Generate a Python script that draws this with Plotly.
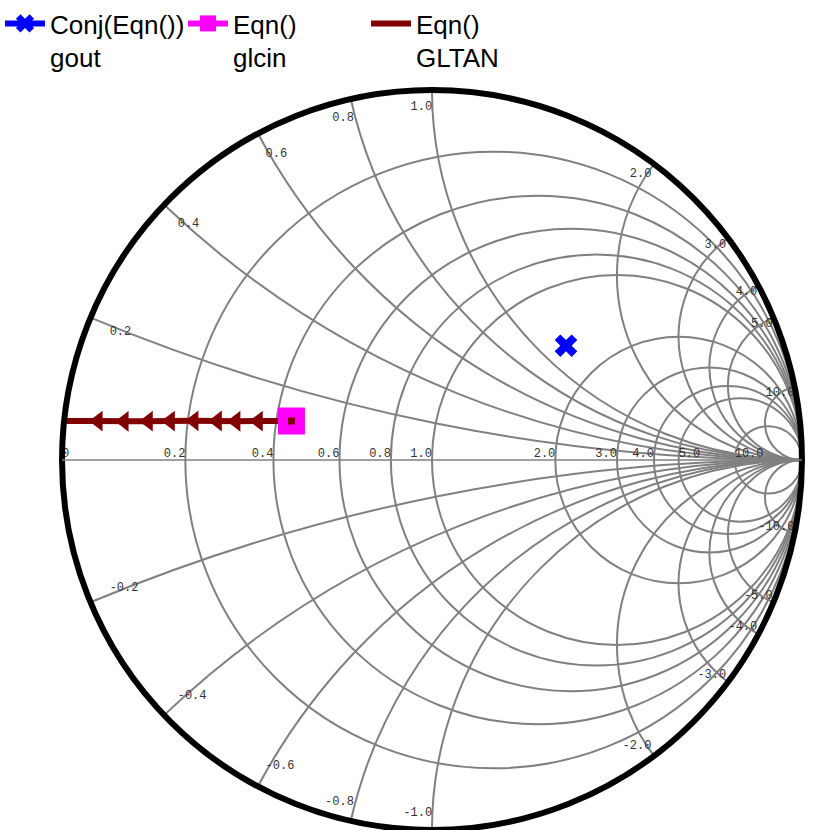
import plotly.graph_objects as go

# Data (normalized impedance: real = resistance, imag = reactance)
gout_r = [1.54]
gout_x = [1.23]

glcin_r = [0.441]
glcin_x = [0.110]

gltan_r = [0.441, 0.354, 0.301, 0.260, 0.212, 0.167, 0.128, 0.088, 0.048, 0.0]
gltan_x = [0.110, 0.097, 0.089, 0.084, 0.078, 0.072, 0.067, 0.062, 0.058, 0.053]

real_vals = [0.0, 0.2, 0.4, 0.6, 0.8, 1.0, 2.0, 3.0, 4.0, 5.0, 10.0]
real_labels = ["0", "0.2", "0.4", "0.6", "0.8", "1.0", "2.0", "3.0", "4.0", "5.0", "10.0"]
imag_vals = [0.2, 0.4, 0.6, 0.8, 1.0, 2.0, 3.0, 4.0, 5.0, 10.0,
             -0.2, -0.4, -0.6, -0.8, -1.0, -2.0, -3.0, -4.0, -5.0, -10.0]
imag_labels = ["0.2", "0.4", "0.6", "0.8", "1.0", "2.0", "3.0", "4.0", "5.0", "10.0",
               "-0.2", "-0.4", "-0.6", "-0.8", "-1.0", "-2.0", "-3.0", "-4.0", "-5.0", "-10.0"]
grid_real = real_vals[1:]
grid_imag = sorted(imag_vals)
label_inset = 0.03  # small resistance so edge labels sit just inside the rim

DARK_RED = "#800000"
LABEL_FONT = dict(family="Liberation Mono", size=12, color="#333333")

fig = go.Figure()

fig.add_trace(go.Scattersmith(
    real=gout_r, imag=gout_x, mode="lines+markers",
    name="Conj(Eqn())<br>gout",
    line=dict(color="#0000ff", width=6),
    marker=dict(symbol="x", size=20, color="#0000ff"),
    legendrank=1,
))

fig.add_trace(go.Scattersmith(
    real=gltan_r, imag=gltan_x, mode="lines",
    name="Eqn()<br>GLTAN",
    line=dict(color=DARK_RED, width=6),
    legendrank=3,
))

fig.add_trace(go.Scattersmith(
    real=gltan_r[1:-1], imag=gltan_x[1:-1], mode="markers",
    showlegend=False, hoverinfo="skip",
    marker=dict(symbol="triangle-left", size=18, color=DARK_RED),
))

fig.add_trace(go.Scattersmith(
    real=glcin_r, imag=glcin_x, mode="lines+markers",
    name="Eqn()<br>glcin",
    line=dict(color="#ff00ff", width=6),
    marker=dict(symbol="square", size=27, color="#ff00ff"),
    legendrank=2,
))

fig.add_trace(go.Scattersmith(
    real=glcin_r, imag=glcin_x, mode="markers",
    showlegend=False, hoverinfo="skip",
    marker=dict(symbol="square", size=7, color=DARK_RED),
))

# Axis labels drawn inside the chart, positioned by the smith scales
real_pos = ["top right"] + ["top left"] * (len(real_vals) - 1)
real_pos[real_labels.index("5.0")] = "top right"
real_pos[real_labels.index("10.0")] = "top right"
fig.add_trace(go.Scattersmith(
    real=real_vals, imag=[0.0] * len(real_vals), mode="text",
    text=real_labels, textposition=real_pos, textfont=LABEL_FONT,
    showlegend=False, hoverinfo="skip",
))

imag_pos = []
for v in imag_vals:
    if v > 0:
        imag_pos.append("bottom right" if v < 0.7 else "bottom left")
    else:
        imag_pos.append("top right" if v > -0.7 else "top left")

fig.add_trace(go.Scattersmith(
    real=[label_inset] * len(imag_vals), imag=imag_vals, mode="text",
    text=imag_labels, textposition=imag_pos, textfont=LABEL_FONT,
    showlegend=False, hoverinfo="skip",
))

fig.update_layout(
    width=817, height=830,
    margin=dict(l=0, r=0, t=0, b=0),
    paper_bgcolor="white",
    showlegend=True,
    legend=dict(
        orientation="h", x=0, y=1, xanchor="left", yanchor="top",
        font=dict(family="Liberation Sans", size=26, color="black"),
        entrywidth=128, entrywidthmode="pixels", itemwidth=40, valign="top",
        bgcolor="rgba(0,0,0,0)",
    ),
    smith=dict(
        domain=dict(x=[0.0759, 0.9816], y=[0.0, 0.8916]),
        bgcolor="white",
        realaxis=dict(
            tickvals=grid_real,
            gridcolor="#808080", gridwidth=1.5,
            linecolor="#808080", linewidth=1.5,
            showticklabels=False, ticks="",
        ),
        imaginaryaxis=dict(
            tickvals=grid_imag,
            gridcolor="#808080", gridwidth=1.5,
            linecolor="black", linewidth=6,
            showticklabels=False, ticks="",
        ),
    ),
)

fig.write_html("out.html")
